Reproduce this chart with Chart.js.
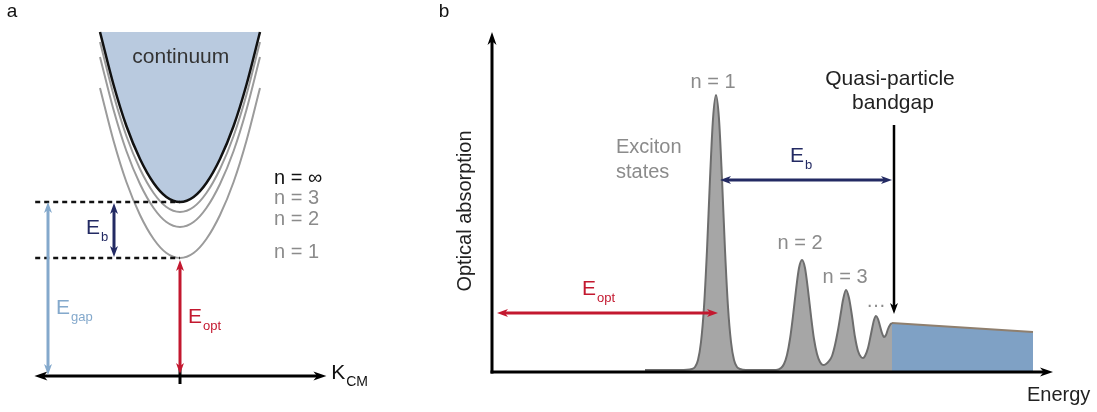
<!DOCTYPE html>
<html>
<head>
<meta charset="utf-8">
<script src="https://cdn.jsdelivr.net/npm/chart.js@4.4.0/dist/chart.umd.min.js"></script>
<style>
html, body { margin: 0; padding: 0; background: #fff; width: 1097px; height: 412px; overflow: hidden; }
#panelA { position: absolute; left: 0; top: 0; }
#panelB { position: absolute; left: 440px; top: 0; }
</style>
</head>
<body>
<canvas id="panelA" width="440" height="412"></canvas>
<canvas id="panelB" width="657" height="412"></canvas>
<script>
// panel a: exciton bands vs centre-of-mass momentum
const kPoints = [-1, -0.83, -0.67, -0.5, -0.33, -0.17, 0, 0.17, 0.33, 0.5, 0.67, 0.83, 1]
const continuumEdge = [344, 291, 250, 217, 193, 179, 174, 179, 193, 217, 250, 291, 344]
const excitonN3 = [334, 281, 240, 207, 183, 169, 164, 169, 183, 207, 240, 281, 334]
const excitonN2 = [319, 266, 225, 192, 168, 154, 149, 154, 168, 192, 225, 266, 319]
const excitonN1 = [288, 235, 194, 161, 137, 123, 118, 123, 137, 161, 194, 235, 288]

// panel b: optical absorption spectrum
const energies = [153, 188, 200, 203, 206, 209, 212, 215, 218, 221, 224, 227, 230, 233, 236, 239, 242, 245, 248, 254,
    284, 289, 292, 295, 298, 301, 304, 307, 310, 313, 316, 319, 322, 325, 328, 331,
    334, 337, 340, 343, 346, 349, 351, 354, 357, 360, 363, 366, 369, 371,
    373, 376, 379, 382, 384, 386, 388, 390, 392, 394, 396, 398, 400]
const absorption = [2, 2, 3, 5, 12, 30, 65, 122, 193, 253, 277, 253, 193, 122, 65, 30, 12, 5, 3, 2,
    2, 4, 8, 17, 33, 56, 82, 104, 112, 104, 82, 56, 33, 18, 10, 7,
    8, 11, 16, 27, 42, 60, 72, 82, 74, 56, 35, 21, 15, 14,
    16, 24, 38, 52, 56, 53, 46, 39, 35, 37, 43, 47, 49]
const continuumEnergies = [400, 541]
const continuumAbsorption = [49, 40]

const FONT = '"Liberation Sans", Arial, Helvetica, sans-serif'
const GREY_TEXT = '#8b8b8b'
const NAVY = '#232a63'
const RED = '#c3182f'
const LIGHT_BLUE = '#84a9cc'

const toPoints = (xs, ys) => xs.map((x, i) => ({x: x, y: ys[i]}))

function arrowHead(ctx, x, y, angle, len, w){
    ctx.save()
    ctx.translate(x, y)
    ctx.rotate(angle)
    ctx.beginPath()
    ctx.moveTo(0, 0)
    ctx.lineTo(-len, w / 2)
    ctx.lineTo(-len * 0.72, 0)
    ctx.lineTo(-len, -w / 2)
    ctx.closePath()
    ctx.fill()
    ctx.restore()
}

function drawArrow(chart, a){
    const ctx = chart.ctx
    const xs = chart.scales.x, ys = chart.scales.y
    let x1 = xs.getPixelForValue(a.from[0]), y1 = ys.getPixelForValue(a.from[1])
    let x2 = xs.getPixelForValue(a.to[0]), y2 = ys.getPixelForValue(a.to[1])
    const ang = Math.atan2(y2 - y1, x2 - x1)
    const len = a.head || 11, w = a.headW || 8
    ctx.save()
    ctx.strokeStyle = ctx.fillStyle = a.color || '#000'
    ctx.lineWidth = a.width || 2.5
    ctx.setLineDash(a.dash || [])
    ctx.lineCap = 'butt'
    let sx1 = x1, sy1 = y1, sx2 = x2, sy2 = y2
    if(a.heads === 'end' || a.heads === 'both'){
        sx2 = x2 - Math.cos(ang) * len * 0.7
        sy2 = y2 - Math.sin(ang) * len * 0.7
    }
    if(a.heads === 'both'){
        sx1 = x1 + Math.cos(ang) * len * 0.7
        sy1 = y1 + Math.sin(ang) * len * 0.7
    }
    ctx.beginPath()
    ctx.moveTo(sx1, sy1)
    ctx.lineTo(sx2, sy2)
    ctx.stroke()
    ctx.setLineDash([])
    if(a.heads === 'end' || a.heads === 'both') arrowHead(ctx, x2, y2, ang, len, w)
    if(a.heads === 'both') arrowHead(ctx, x1, y1, ang + Math.PI, len, w)
    ctx.restore()
}

function drawText(chart, t){
    const ctx = chart.ctx
    const x = chart.scales.x.getPixelForValue(t.at[0])
    const y = chart.scales.y.getPixelForValue(t.at[1])
    const size = t.size || 20
    ctx.save()
    ctx.translate(x, y)
    if(t.rotate) ctx.rotate(t.rotate)
    ctx.fillStyle = t.color || '#222'
    ctx.font = size + 'px ' + FONT
    ctx.textBaseline = t.baseline || 'middle'
    ctx.textAlign = t.align || 'left'
    ctx.fillText(t.text, 0, 0)
    if(t.sub){
        const w = ctx.measureText(t.text).width
        ctx.font = (t.subSize || 13) + 'px ' + FONT
        ctx.textAlign = 'left'
        ctx.fillText(t.sub, w + 1, size * 0.45)
    }
    ctx.restore()
}

// draws arrows and labels on top of the datasets
const annotate = {
    id: 'annotate',
    afterDatasetsDraw(chart, args, opts){
        (opts.arrows || []).forEach(a => drawArrow(chart, a))
        ;(opts.labels || []).forEach(t => drawText(chart, t))
    }
}

const baseOptions = (xmin, xmax, ymin, ymax, extra) => ({
    responsive: false,
    animation: false,
    devicePixelRatio: 1,
    layout: {padding: 0},
    elements: {point: {radius: 0}},
    plugins: {legend: {display: false}, tooltip: {enabled: false}, annotate: extra},
    scales: {
        x: {type: 'linear', display: false, min: xmin, max: xmax},
        y: {type: 'linear', display: false, min: ymin, max: ymax}
    }
})

new Chart(document.querySelector('#panelA'), {
    type: 'line',
    data: {
        datasets: [
            {data: toPoints(kPoints, continuumEdge), borderColor: '#111', borderWidth: 2.5,
                backgroundColor: '#b9cadf', fill: {value: continuumEdge[0]}, cubicInterpolationMode: 'monotone'},
            {data: toPoints(kPoints, excitonN3), borderColor: '#9b9b9b', borderWidth: 2, fill: false, cubicInterpolationMode: 'monotone'},
            {data: toPoints(kPoints, excitonN2), borderColor: '#9b9b9b', borderWidth: 2, fill: false, cubicInterpolationMode: 'monotone'},
            {data: toPoints(kPoints, excitonN1), borderColor: '#9b9b9b', borderWidth: 2, fill: false, cubicInterpolationMode: 'monotone'}
        ]
    },
    options: baseOptions(-2.25, 3.25, -36, 376, {
        arrows: [
            {from: [-1.81, 174], to: [0, 174], heads: 'none', color: '#111', width: 2.5, dash: [5, 4]},
            {from: [-1.81, 118], to: [0, 118], heads: 'none', color: '#111', width: 2.5, dash: [5, 4]},
            {from: [-1.82, 0], to: [1.83, 0], heads: 'both', color: '#000', width: 3, head: 13, headW: 9},
            {from: [0, -8], to: [0, 7], heads: 'none', color: '#000', width: 3},
            {from: [-1.65, 1], to: [-1.65, 174], heads: 'both', color: LIGHT_BLUE, width: 3},
            {from: [-0.825, 119], to: [-0.825, 173], heads: 'both', color: NAVY, width: 3},
            {from: [0, 2], to: [0, 116], heads: 'both', color: RED, width: 3}
        ],
        labels: [
            {text: 'a', at: [-2.1, 364], size: 19, align: 'center', color: '#111'},
            {text: 'continuum', at: [0.01, 319], size: 21, align: 'center', color: '#333'},
            {text: 'n = \u221e', at: [1.175, 198], color: '#111'},
            {text: 'n = 3', at: [1.175, 178], color: GREY_TEXT},
            {text: 'n = 2', at: [1.175, 157], color: GREY_TEXT},
            {text: 'n = 1', at: [1.175, 124], color: GREY_TEXT},
            {text: 'E', sub: 'b', at: [-1.175, 148], size: 21, subSize: 13, color: NAVY},
            {text: 'E', sub: 'gap', at: [-1.55, 68], size: 21, subSize: 13, color: LIGHT_BLUE},
            {text: 'E', sub: 'opt', at: [0.1, 59], size: 21, subSize: 13, color: RED},
            {text: 'K', sub: 'CM', at: [1.89, 3], size: 21, subSize: 14, color: '#111'}
        ]
    })
, plugins: [annotate]})

new Chart(document.querySelector('#panelB'), {
    type: 'line',
    data: {
        datasets: [
            {data: toPoints(energies, absorption), borderColor: '#6d6d6d', borderWidth: 2,
                backgroundColor: '#a6a6a6', fill: 'origin', cubicInterpolationMode: 'monotone'},
            {data: toPoints(continuumEnergies, continuumAbsorption), borderColor: '#8f7f6e', borderWidth: 2,
                backgroundColor: '#7fa1c5', fill: 'origin'}
        ]
    },
    options: baseOptions(-52, 605, -40, 372, {
        arrows: [
            {from: [0, -1.5], to: [0, 340], heads: 'end', color: '#000', width: 3, head: 13, headW: 9},
            {from: [-1.5, 0], to: [561, 0], heads: 'end', color: '#000', width: 3, head: 13, headW: 9},
            {from: [402, 247], to: [402, 58], heads: 'end', color: '#000', width: 2.5},
            {from: [228, 192], to: [400, 192], heads: 'both', color: NAVY, width: 3},
            {from: [5, 59], to: [226, 59], heads: 'both', color: RED, width: 3}
        ],
        labels: [
            {text: 'b', at: [-48, 360], size: 19, align: 'center', color: '#111'},
            {text: 'n = 1', at: [221, 290], align: 'center', color: GREY_TEXT},
            {text: 'Exciton', at: [124, 225], color: GREY_TEXT},
            {text: 'states', at: [124, 200], color: GREY_TEXT},
            {text: 'n = 2', at: [308, 129], align: 'center', color: GREY_TEXT},
            {text: 'n = 3', at: [353, 95], align: 'center', color: GREY_TEXT},
            {text: '\u2026', at: [384, 65], align: 'center', baseline: 'alphabetic', color: GREY_TEXT},
            {text: 'Quasi-particle', at: [398, 293], size: 21, align: 'center', color: '#222'},
            {text: 'bandgap', at: [401, 269], size: 21, align: 'center', color: '#222'},
            {text: 'E', sub: 'b', at: [298, 216], size: 21, subSize: 13, color: NAVY},
            {text: 'E', sub: 'opt', at: [90, 83], size: 21, subSize: 13, color: RED},
            {text: 'Energy', at: [535, -23], color: '#222'},
            {text: 'Optical absorption', at: [-27, 161], align: 'center', rotate: -Math.PI / 2, color: '#222'}
        ]
    })
, plugins: [annotate]})
</script>
</body>
</html>
